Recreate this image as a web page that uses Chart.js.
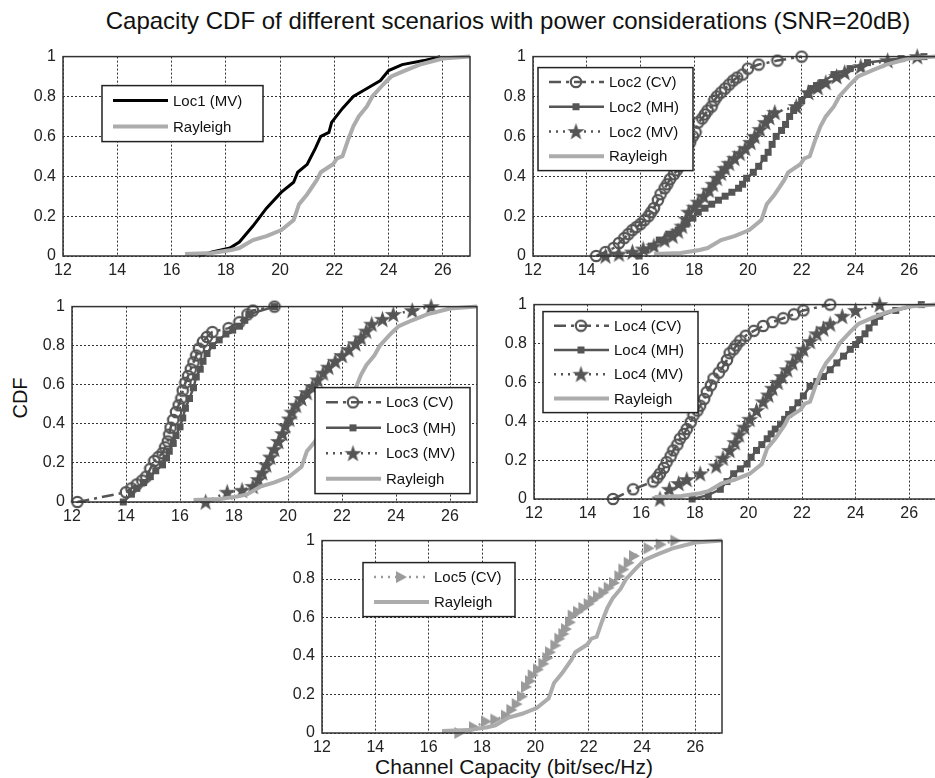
<!DOCTYPE html>
<html>
<head>
<meta charset="utf-8">
<script src="https://cdn.jsdelivr.net/npm/chart.js@4.4.0/dist/chart.umd.min.js"></script>
<style>
  body { margin:0; background:#fff; width:935px; height:778px; overflow:hidden; position:relative;
         font-family:"Liberation Sans", Arial, sans-serif; }
  canvas { position:absolute; }
  .lbl { position:absolute; color:#111; white-space:nowrap; }
</style>
</head>
<body>
<div class="lbl" style="left:0;width:1016px;text-align:center;top:7px;font-size:24px">Capacity CDF of different scenarios with power considerations (SNR=20dB)</div>
<div class="lbl" style="left:20px;top:398px;font-size:20px;transform:translate(-50%,-50%) rotate(-90deg)">CDF</div>
<div class="lbl" style="left:0;width:1028px;text-align:center;top:755px;font-size:21px">Channel Capacity (bit/sec/Hz)</div>

<canvas id="c1"></canvas>
<canvas id="c2"></canvas>
<canvas id="c3"></canvas>
<canvas id="c4"></canvas>
<canvas id="c5"></canvas>

<script>
// ---- ticks ----
const xTicks = [12, 14, 16, 18, 20, 22, 24, 26];
const yTicks = [0, 0.2, 0.4, 0.6, 0.8, 1];

// ---- data (capacity values, matching CDF levels) ----
const rayleighCap = [16.5, 17.5, 18.2, 18.5, 19.0, 19.5, 20.05, 20.5, 20.7, 21.0, 21.35, 21.5, 21.95, 22.1, 22.3, 22.5, 22.7, 22.9, 23.2, 23.4, 23.8, 24.1, 24.6, 25.15, 26.0, 27.0];
const rayleighCdf = [0.01, 0.015, 0.03, 0.04, 0.08, 0.1, 0.13, 0.18, 0.26, 0.31, 0.38, 0.42, 0.46, 0.49, 0.5, 0.58, 0.65, 0.7, 0.75, 0.8, 0.86, 0.9, 0.93, 0.96, 0.99, 1.0];

const loc1MvCap = [17.0, 17.5, 18.15, 18.5, 19.0, 19.5, 20.05, 20.5, 20.65, 21.0, 21.3, 21.5, 21.8, 21.9, 22.3, 22.7, 23.2, 23.7, 24.0, 24.5, 25.3, 25.9];
const loc1MvCdf = [0, 0.02, 0.04, 0.07, 0.15, 0.24, 0.32, 0.37, 0.42, 0.46, 0.54, 0.6, 0.62, 0.67, 0.74, 0.8, 0.84, 0.88, 0.93, 0.96, 0.98, 1.0];

const loc2CvCap = [14.35, 14.7, 15.0, 15.2, 15.4, 15.55, 15.7, 15.85, 16.0, 16.15, 16.3, 16.4, 16.5, 16.65, 16.75, 16.9, 17.0, 17.1, 17.25, 17.35, 17.45, 17.6, 17.7, 17.85, 17.95, 18.05, 18.15, 18.3, 18.4, 18.5, 18.65, 18.75, 18.85, 19.0, 19.15, 19.3, 19.45, 19.6, 19.8, 20.0, 20.4, 21.1, 22.0];
const loc2CvCdf = [0, 0.02, 0.04, 0.065, 0.09, 0.11, 0.13, 0.145, 0.16, 0.18, 0.2, 0.22, 0.24, 0.28, 0.31, 0.34, 0.36, 0.385, 0.41, 0.43, 0.45, 0.49, 0.52, 0.57, 0.6, 0.62, 0.67, 0.69, 0.71, 0.73, 0.75, 0.78, 0.8, 0.82, 0.84, 0.86, 0.88, 0.895, 0.91, 0.94, 0.96, 0.98, 1.0];
const loc2MhCap = [15.95, 16.2, 16.4, 16.7, 17.05, 17.4, 17.7, 17.95, 18.15, 18.4, 18.65, 18.9, 19.15, 19.4, 19.65, 19.8, 19.95, 20.2, 20.4, 20.6, 20.75, 20.9, 21.05, 21.25, 21.4, 21.55, 21.7, 21.85, 22.0, 22.2, 22.35, 22.55, 22.75, 23.2, 23.8, 24.45, 25.7, 26.55];
const loc2MhCdf = [0, 0.03, 0.05, 0.08, 0.11, 0.13, 0.16, 0.19, 0.22, 0.24, 0.26, 0.28, 0.3, 0.32, 0.34, 0.36, 0.39, 0.42, 0.45, 0.49, 0.52, 0.56, 0.6, 0.63, 0.66, 0.7, 0.73, 0.755, 0.78, 0.81, 0.84, 0.855, 0.87, 0.91, 0.94, 0.97, 0.99, 1.0];
const loc2MvCap = [14.7, 15.2, 15.7, 16.1, 16.5, 16.9, 17.2, 17.4, 17.55, 17.7, 17.8, 18.0, 18.15, 18.35, 18.55, 18.7, 18.85, 19.0, 19.15, 19.3, 19.5, 19.7, 19.9, 20.1, 20.25, 20.45, 20.65, 20.8, 21.0, 21.8, 22.25, 22.6, 22.9, 23.3, 23.6, 24.2, 25.2, 26.3];
const loc2MvCdf = [0, 0.01, 0.02, 0.035, 0.05, 0.08, 0.1, 0.125, 0.15, 0.185, 0.22, 0.245, 0.27, 0.3, 0.33, 0.36, 0.39, 0.415, 0.44, 0.465, 0.49, 0.515, 0.54, 0.57, 0.6, 0.635, 0.67, 0.695, 0.72, 0.75, 0.82, 0.845, 0.87, 0.9, 0.92, 0.95, 0.98, 1.0];

const loc3CvCap = [12.2, 14.0, 14.2, 14.4, 14.6, 14.75, 14.9, 15.05, 15.2, 15.35, 15.45, 15.55, 15.6, 15.65, 15.75, 15.85, 15.95, 16.05, 16.1, 16.2, 16.3, 16.4, 16.5, 16.6, 16.7, 16.85, 17.0, 17.2, 17.8, 18.2, 18.5, 18.7, 19.5];
const loc3CvCdf = [0, 0.05, 0.07, 0.09, 0.11, 0.13, 0.17, 0.21, 0.23, 0.25, 0.28, 0.31, 0.345, 0.38, 0.42, 0.46, 0.495, 0.53, 0.57, 0.61, 0.645, 0.68, 0.715, 0.75, 0.785, 0.82, 0.845, 0.87, 0.89, 0.92, 0.96, 0.98, 1.0];
const loc3MhCap = [13.9, 14.2, 14.4, 14.65, 14.9, 15.1, 15.35, 15.5, 15.6, 15.75, 15.85, 16.0, 16.1, 16.2, 16.35, 16.5, 16.6, 16.75, 16.85, 17.0, 17.2, 17.45, 17.7, 17.95, 18.2, 18.4, 18.55, 19.5];
const loc3MhCdf = [0, 0.04, 0.07, 0.1, 0.13, 0.16, 0.19, 0.225, 0.26, 0.3, 0.34, 0.385, 0.43, 0.48, 0.53, 0.585, 0.64, 0.68, 0.72, 0.76, 0.8, 0.83, 0.86, 0.88, 0.9, 0.93, 0.96, 1.0];
const loc3MvCap = [16.95, 17.75, 18.3, 18.7, 18.9, 19.05, 19.2, 19.35, 19.5, 19.65, 19.8, 19.9, 20.05, 20.15, 20.3, 20.5, 20.7, 20.9, 21.1, 21.3, 21.5, 21.75, 22.0, 22.25, 22.5, 22.7, 22.9, 23.1, 23.5, 23.9, 24.6, 25.3];
const loc3MvCdf = [0, 0.05, 0.06, 0.08, 0.115, 0.15, 0.19, 0.23, 0.27, 0.31, 0.35, 0.39, 0.425, 0.46, 0.495, 0.53, 0.56, 0.59, 0.625, 0.66, 0.69, 0.72, 0.75, 0.78, 0.81, 0.84, 0.875, 0.91, 0.935, 0.96, 0.98, 1.0];

const loc4CvCap = [14.95, 15.7, 16.45, 16.6, 16.7, 16.85, 16.95, 17.1, 17.2, 17.35, 17.45, 17.6, 17.7, 17.85, 17.95, 18.1, 18.2, 18.35, 18.45, 18.6, 18.7, 18.9, 19.05, 19.2, 19.3, 19.45, 19.55, 19.7, 19.9, 20.2, 20.55, 20.9, 21.3, 21.7, 22.05, 23.05];
const loc4CvCdf = [0, 0.05, 0.09, 0.11, 0.13, 0.16, 0.19, 0.22, 0.25, 0.28, 0.31, 0.335, 0.36, 0.395, 0.43, 0.455, 0.48, 0.515, 0.55, 0.585, 0.62, 0.65, 0.68, 0.715, 0.75, 0.77, 0.79, 0.815, 0.84, 0.865, 0.89, 0.91, 0.93, 0.95, 0.97, 1.0];
const loc4MhCap = [17.9, 18.5, 18.95, 19.2, 19.45, 19.7, 19.95, 20.1, 20.3, 20.5, 20.7, 20.85, 21.0, 21.2, 21.35, 21.5, 21.65, 21.85, 22.05, 22.3, 22.55, 22.8, 23.05, 23.3, 23.55, 23.8, 24.0, 24.15, 24.35, 24.5, 24.7, 24.9, 25.5, 26.45];
const loc4MhCdf = [0, 0.02, 0.05, 0.09, 0.13, 0.155, 0.18, 0.215, 0.25, 0.28, 0.31, 0.335, 0.36, 0.385, 0.41, 0.435, 0.46, 0.495, 0.53, 0.58, 0.605, 0.63, 0.665, 0.7, 0.735, 0.77, 0.795, 0.82, 0.85, 0.88, 0.91, 0.94, 0.97, 1.0];
const loc4MvCap = [16.7, 17.05, 17.4, 17.7, 18.2, 18.8, 19.05, 19.3, 19.5, 19.65, 19.85, 20.05, 20.3, 20.55, 20.75, 20.9, 21.1, 21.25, 21.45, 21.65, 21.85, 22.05, 22.3, 22.55, 22.8, 23.05, 23.5, 24.0, 24.9];
const loc4MvCdf = [0, 0.05, 0.08, 0.1, 0.13, 0.17, 0.21, 0.25, 0.29, 0.33, 0.37, 0.41, 0.455, 0.5, 0.535, 0.57, 0.6, 0.63, 0.665, 0.7, 0.735, 0.77, 0.81, 0.85, 0.875, 0.9, 0.94, 0.97, 1.0];

const loc5CvCap = [17.15, 17.7, 18.15, 18.5, 18.9, 19.1, 19.3, 19.5, 19.65, 19.8, 19.9, 20.1, 20.3, 20.45, 20.55, 20.75, 20.9, 21.05, 21.15, 21.3, 21.4, 21.6, 21.8, 22.0, 22.15, 22.35, 22.55, 22.75, 22.95, 23.15, 23.3, 23.5, 23.7, 24.25, 24.7, 25.25];
const loc5CvCdf = [0, 0.03, 0.06, 0.07, 0.09, 0.12, 0.15, 0.19, 0.24, 0.27, 0.3, 0.33, 0.36, 0.39, 0.42, 0.455, 0.49, 0.515, 0.54, 0.575, 0.61, 0.63, 0.65, 0.67, 0.69, 0.71, 0.73, 0.755, 0.78, 0.815, 0.85, 0.885, 0.92, 0.96, 0.98, 1.0];

// ---- markers drawn once onto small canvases ----
function marker(kind, color) {
  const size = { circle: 14, square: 9, star: 19, tri: 14 }[kind];
  const c = document.createElement('canvas');
  c.width = c.height = size;
  const g = c.getContext('2d');
  const m = size / 2;
  g.fillStyle = color; g.strokeStyle = color;
  if (kind === 'circle') {
    g.lineWidth = 2.2; g.beginPath(); g.arc(m, m, 5.2, 0, Math.PI * 2); g.stroke();
  } else if (kind === 'square') {
    g.fillRect(1, 1, 7, 7);
  } else if (kind === 'star') {
    g.beginPath();
    for (let i = 0; i < 10; i++) {
      const r = i % 2 ? 3.6 : 9;
      const a = -Math.PI / 2 + i * Math.PI / 5;
      g.lineTo(m + r * Math.cos(a), m + 0.6 + r * Math.sin(a));
    }
    g.closePath(); g.fill();
  } else if (kind === 'tri') {
    g.beginPath(); g.moveTo(size - 1, m); g.lineTo(2, 1); g.lineTo(2, size - 1); g.closePath(); g.fill();
  }
  return c;
}

const DARK = '#555555', RAY = '#acacac';
const styles = {
  loc1: { color: '#000', width: 3, dash: [], mk: null },
  ray:  { color: RAY, width: 4, dash: [], mk: null },
  cv:   { color: DARK, width: 2.5, dash: [12, 5, 3, 5], mk: marker('circle', DARK) },
  mh:   { color: DARK, width: 2.5, dash: [], mk: marker('square', DARK) },
  mv:   { color: DARK, width: 2.5, dash: [2, 5], mk: marker('star', DARK) },
  loc5: { color: '#9a9a9a', width: 2.5, dash: [2, 5], mk: marker('tri', '#9a9a9a') }
};

function series(label, cap, cdf, st) {
  const s = styles[st];
  return {
    label,
    data: cap.map((c, i) => ({ x: c, y: cdf[i] })),
    borderColor: s.color, backgroundColor: s.color,
    borderWidth: s.width, borderDash: s.dash,
    pointStyle: s.mk || false, pointRadius: s.mk ? 5 : 0,
    tension: 0, fill: false, clip: false, _st: st
  };
}

// axes frame + MATLAB-like legend box
const framePlugin = {
  id: 'frame',
  afterDraw(chart, args, opts) {
    const ctx = chart.ctx, a = chart.chartArea;
    ctx.save();
    ctx.strokeStyle = '#333'; ctx.lineWidth = 1.5; ctx.setLineDash([]);
    ctx.strokeRect(a.left, a.top, a.right - a.left, a.bottom - a.top);
    const lg = opts.legend;
    const bx = a.left + lg.x, by = a.top + lg.y;
    ctx.fillStyle = '#fff'; ctx.fillRect(bx, by, lg.w, lg.h);
    ctx.strokeStyle = '#222'; ctx.strokeRect(bx, by, lg.w, lg.h);
    const ds = chart.data.datasets;
    const rowH = (lg.h - 4) / ds.length;
    ds.forEach((d, i) => {
      const s = styles[d._st];
      const cy = by + 2 + rowH * (i + 0.5);
      ctx.strokeStyle = s.color; ctx.lineWidth = s.width; ctx.setLineDash(s.dash);
      ctx.beginPath(); ctx.moveTo(bx + 11, cy); ctx.lineTo(bx + 66, cy); ctx.stroke();
      ctx.setLineDash([]);
      if (s.mk) ctx.drawImage(s.mk, bx + 38 - s.mk.width / 2, cy - s.mk.height / 2);
      ctx.fillStyle = '#111'; ctx.font = '15px "Liberation Sans", Arial, sans-serif';
      ctx.textBaseline = 'middle'; ctx.textAlign = 'left';
      ctx.fillText(d.label, bx + 71, cy + 1);
    });
    ctx.restore();
  }
};

const PADL = 50, PADT = 12, PADR = 12, PADB = 30;

function makeChart(id, box, datasets, legend) {
  const cv = document.getElementById(id);
  const w = box.r - box.l + PADL + PADR, h = box.b - box.t + PADT + PADB;
  cv.width = w; cv.height = h;
  cv.style.left = (box.l - PADL) + 'px'; cv.style.top = (box.t - PADT) + 'px';
  const n = datasets.length;
  datasets.forEach((d, i) => { d.order = n - i; });
  const tickFont = { family: '"Liberation Sans", Arial, sans-serif', size: 16 };
  new Chart(cv, {
    type: 'line',
    data: { datasets },
    plugins: [framePlugin],
    options: {
      responsive: false, animation: false, devicePixelRatio: 1,
      layout: { padding: { left: 0, top: PADT, right: PADR, bottom: 0 } },
      plugins: { legend: { display: false }, tooltip: { enabled: false }, frame: { legend } },
      scales: {
        x: {
          type: 'linear', min: 12, max: 27,
          afterBuildTicks: ax => { ax.ticks = xTicks.map(v => ({ value: v })); },
          afterFit: ax => { ax.height = PADB; },
          ticks: { color: '#222', font: tickFont, padding: 5, maxRotation: 0, autoSkip: false },
          grid: { color: '#333', lineWidth: 1, drawTicks: false },
          border: { display: false, dash: [2, 2] }
        },
        y: {
          type: 'linear', min: 0, max: 1,
          afterBuildTicks: ax => { ax.ticks = yTicks.map(v => ({ value: v })); },
          afterFit: ax => { ax.width = PADL; },
          ticks: { color: '#222', font: tickFont, padding: 7, callback: v => String(v) },
          grid: { color: '#333', lineWidth: 1, drawTicks: false },
          border: { display: false, dash: [2, 2] }
        }
      }
    }
  });
}

makeChart('c1', { l: 63, t: 52, r: 470, b: 256 }, [
  series('Loc1 (MV)', loc1MvCap, loc1MvCdf, 'loc1'),
  series('Rayleigh', rayleighCap, rayleighCdf, 'ray')
], { x: 39, y: 29, w: 161, h: 56 });

makeChart('c2', { l: 533, t: 52, r: 936, b: 256 }, [
  series('Loc2 (CV)', loc2CvCap, loc2CvCdf, 'cv'),
  series('Loc2 (MH)', loc2MhCap, loc2MhCdf, 'mh'),
  series('Loc2 (MV)', loc2MvCap, loc2MvCdf, 'mv'),
  series('Rayleigh', rayleighCap, rayleighCdf, 'ray')
], { x: 5, y: 11, w: 155, h: 103 });

makeChart('c3', { l: 72, t: 302, r: 477, b: 502 }, [
  series('Loc3 (CV)', loc3CvCap, loc3CvCdf, 'cv'),
  series('Loc3 (MH)', loc3MhCap, loc3MhCdf, 'mh'),
  series('Loc3 (MV)', loc3MvCap, loc3MvCdf, 'mv'),
  series('Rayleigh', rayleighCap, rayleighCdf, 'ray')
], { x: 243, y: 81, w: 155, h: 106 });

makeChart('c4', { l: 534, t: 300, r: 936, b: 499 }, [
  series('Loc4 (CV)', loc4CvCap, loc4CvCdf, 'cv'),
  series('Loc4 (MH)', loc4MhCap, loc4MhCdf, 'mh'),
  series('Loc4 (MV)', loc4MvCap, loc4MvCdf, 'mv'),
  series('Rayleigh', rayleighCap, rayleighCdf, 'ray')
], { x: 9, y: 7, w: 155, h: 101 });

makeChart('c5', { l: 322, t: 536, r: 722, b: 733 }, [
  series('Loc5 (CV)', loc5CvCap, loc5CvCdf, 'loc5'),
  series('Rayleigh', rayleighCap, rayleighCdf, 'ray')
], { x: 41, y: 22, w: 152, h: 54 });
</script>
</body>
</html>
